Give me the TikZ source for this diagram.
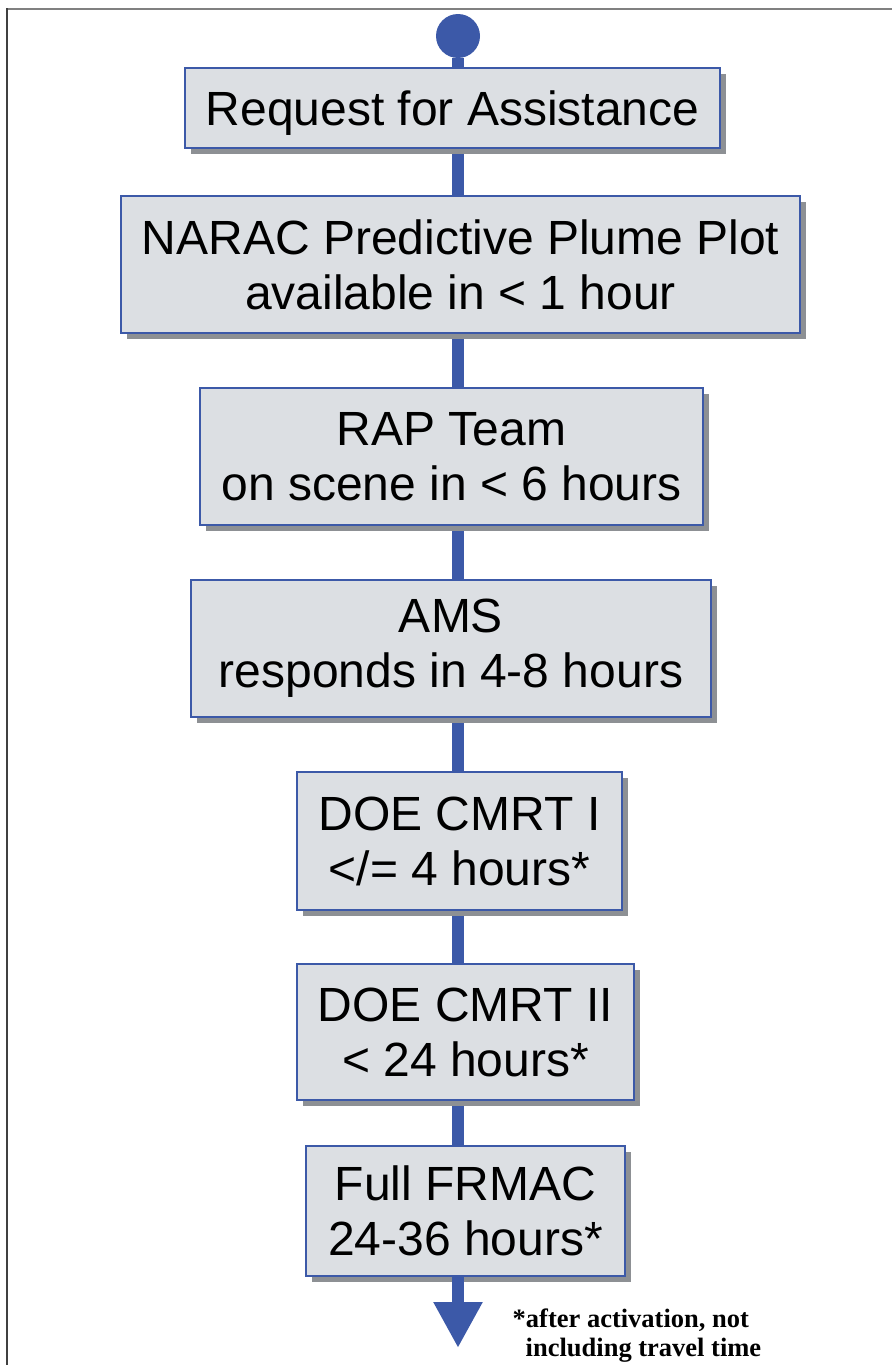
\documentclass[tikz,border=0pt]{standalone}
\usepackage{fontspec}
\setmainfont{Liberation Sans}
\newfontfamily\notefont{Liberation Serif}
\usetikzlibrary{arrows.meta,shadows,backgrounds}
\definecolor{flowblue}{HTML}{3C59A8}
\definecolor{boxgray}{HTML}{DCDFE3}
\definecolor{shadegray}{HTML}{8D9094}

\begin{document}
\begin{tikzpicture}[x=1pt,y=-1pt,
  stagebox/.style={draw=flowblue, line width=2pt, fill=boxgray, align=center,
    inner sep=0pt, font=\fontsize{48}{55}\selectfont,
    drop shadow={shadow xshift=6pt, shadow yshift=-6pt, fill=shadegray, opacity=1}},
  link/.style={draw=flowblue, line width=12pt}]
  \useasboundingbox (0,0) rectangle (892,1365);
  % frame
  \draw[gray, line width=2pt] (6,8.5) -- (892,8.5);
  \draw[black!75, line width=2pt] (7,8) -- (7,1365);

  \node (start) [circle, fill=flowblue, minimum size=44pt, inner sep=0pt] at (458,36) {};
  \node (request) [stagebox, text depth=0pt, minimum width=535pt, minimum height=80pt] at (452.5,108)
    {Request for Assistance};
  \node (narac) [stagebox, minimum width=679pt, minimum height=137pt] at (460.5,264.5)
    {NARAC Predictive Plume Plot\\available in < 1 hour};
  \node (rap) [stagebox, minimum width=503pt, minimum height=137pt] at (451.5,456.5)
    {RAP Team\\on scene in < 6 hours};
  \node (ams) [stagebox, minimum width=520pt, minimum height=137pt] at (451,648.5)
    {AMS\\ responds in 4-8 hours};
  \node (cmrt1) [stagebox, minimum width=325pt, minimum height=138pt] at (459.5,841)
    {DOE CMRT I\\</= 4 hours*};
  \node (cmrt2) [stagebox, minimum width=337pt, minimum height=136pt] at (465.5,1032)
    {DOE CMRT II\\< 24 hours*};
  \node (frmac) [stagebox, minimum width=319pt, minimum height=130pt] at (465.5,1211)
    {Full FRMAC\\24-36 hours*};
  \coordinate (tip) at (458,1348);
  \node (note) [anchor=north west, align=left, inner sep=0pt,
    font=\notefont\bfseries\fontsize{26.5}{29}\selectfont] at (512.5,1309)
    {*after activation, not\\\hspace{13pt}including travel time};

  \begin{scope}[on background layer]
  \path[link]
    (start) edge (start |- request)
    (start |- request) edge (start |- narac)
    (start |- narac) edge (start |- rap)
    (start |- rap) edge (start |- ams)
    (start |- ams) edge (start |- cmrt1)
    (start |- cmrt1) edge (start |- cmrt2)
    (start |- cmrt2) edge (start |- frmac);
  \end{scope}
  \draw[link, -{Triangle[width=46pt,length=46pt]}] (start |- frmac.south) -- (tip);
\end{tikzpicture}
\end{document}
